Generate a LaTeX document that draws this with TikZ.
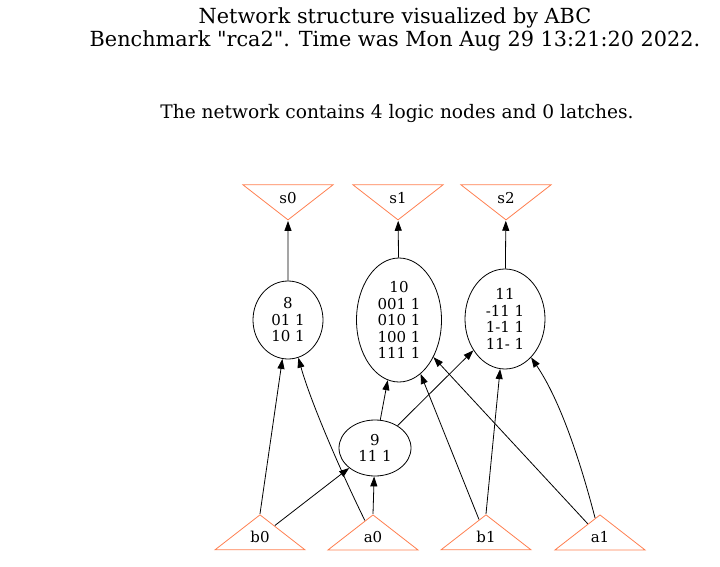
\documentclass[tikz,border=0pt]{standalone}
\usepackage{fontspec}
\setmainfont{DejaVu Serif}
\usetikzlibrary{shapes.geometric,arrows.meta}
\definecolor{coral}{HTML}{FF7F50}
\tikzset{
  gate/.style={ellipse,draw,line width=0.8pt,inner sep=0pt,align=center,font=\fontsize{15}{16.5}\selectfont},
  outpin/.style={isosceles triangle,isosceles triangle stretches,shape border rotate=-90,draw=coral,line width=0.8pt,minimum width=90pt,minimum height=35pt,inner sep=0pt,font=\fontsize{15}{16}\selectfont},
  inpin/.style={outpin,shape border rotate=90},
  wire/.style={-{Triangle[length=10pt,width=7pt]},line width=0.8pt}
}
\begin{document}
\begin{tikzpicture}[x=1pt,y=-1pt]
	\useasboundingbox (0,0) rectangle (720,567);
	\node[font=\fontsize{20.8}{23}\selectfont,align=center] (title) at (395,29) {Network structure visualized by ABC\\Benchmark \textquotedbl rca2\textquotedbl. Time was Mon Aug 29 13:21:20 2022.};
	\node[font=\fontsize{18.6}{23}\selectfont] (info) at (397,114) {The network contains 4 logic nodes and 0 latches.};
	\node[outpin] (s0) at (288,198) {s0};
	\node[outpin] (s1) at (398,198) {s1};
	\node[outpin] (s2) at (506,198) {s2};
	\node[gate,minimum width=70pt,minimum height=78pt] (n8) at (288,320) {8\\01 1\\10 1};
	\node[gate,minimum width=85pt,minimum height=124pt] (n10) at (399,320) {10\\001 1\\010 1\\100 1\\111 1};
	\node[gate,minimum width=80pt,minimum height=100pt] (n11) at (505,319) {11\\-11 1\\1-1 1\\11- 1};
	\node[gate,minimum width=72pt,minimum height=56pt] (n9) at (375,448) {9\\11 1};
	\node[inpin] (b0) at (260,537) {b0};
	\node[inpin] (a0) at (373,537) {a0};
	\node[inpin] (b1) at (486,537) {b1};
	\node[inpin] (a1) at (600,537) {a1};
	\draw[wire] (n8) -- (s0);
	\draw[wire] (n10) -- (s1);
	\draw[wire] (n11) -- (s2);
	\draw[wire] (b0.apex) -- (n8);
	\draw[wire] (a0) .. controls (340,470) and (310,400) .. (n8);
	\draw[wire] (b0) -- (n9);
	\draw[wire] (a0.apex) -- (n9);
	\draw[wire] (n9) -- (n10);
	\draw[wire] (n9) -- (n11);
	\draw[wire] (b1) -- (n10);
	\draw[wire] (a1) -- (n10);
	\draw[wire] (b1.apex) -- (n11);
	\draw[wire] (a1) .. controls (580,460) and (560,400) .. (n11);
\end{tikzpicture}
\end{document}
